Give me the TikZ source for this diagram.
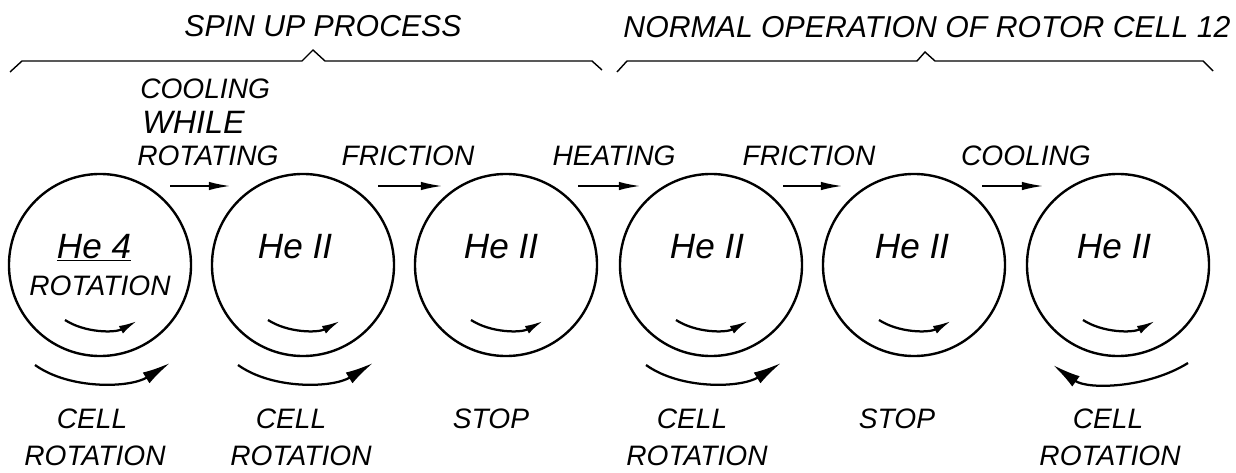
\documentclass[tikz,border=0pt]{standalone}
\usepackage{fontspec}
\setmainfont{Liberation Sans}
\usetikzlibrary{arrows.meta}

\begin{document}
\begin{tikzpicture}[x=0.025cm,y=-0.025cm,
  cell/.style={draw,circle,line width=1.7pt,minimum size=4.55cm,inner sep=0pt},
  tag/.style={anchor=base,inner sep=0pt,font=\itshape\fontsize{20}{24}\selectfont},
  head/.style={anchor=base,inner sep=0pt,font=\itshape\fontsize{21.5}{26}\selectfont},
  gas/.style={anchor=base,inner sep=0pt,font=\itshape\fontsize{25}{30}\selectfont},
  flow/.style={line width=1.1pt,-{Latex[length=15pt,width=6pt]}},
  swirl/.style={line width=1.6pt,-{Latex[length=13pt,width=6pt]}},
  spin/.style={line width=1.6pt,-{Latex[length=20pt,width=9pt]}},
  brace/.style={line width=1pt}]

\useasboundingbox (0,0) rectangle (1236,473);

% Titles and the two braces
\node[head] (spinup) at (323,37) {SPIN UP PROCESS};
\node[head] (normal) at (927,38) {NORMAL OPERATION OF ROTOR CELL 12};
\draw[brace] (10,72) -- (22,61) -- (302,61) -- (313,50) -- (325,61) -- (592,61) -- (602,70);
\draw[brace] (617,72) -- (627,61) -- (917,61) -- (925,52) -- (935,61) -- (1203,61) -- (1213,71);

% The six rotor cells
\node[cell] (cell1) at (100,265) {};
\node[cell] (cell2) at (303,265) {};
\node[cell] (cell3) at (506,265) {};
\node[cell] (cell4) at (711,265) {};
\node[cell] (cell5) at (914,265) {};
\node[cell] (cell6) at (1118,265) {};

% Contents of the cells
\node[gas] (he1) at (94,258) {\underline{He 4}};
\node[tag] (rot1) at (100,295) {ROTATION};
\node[gas] (he2) at (295,258) {He II};
\node[gas] (he3) at (501,258) {He II};
\node[gas] (he4) at (707,258) {He II};
\node[gas] (he5) at (912,258) {He II};
\node[gas] (he6) at (1114,258) {He II};

% Step labels between the cells
\node[tag,anchor=base west] (cool1) at (140,98) {COOLING};
\node[tag,anchor=base west,font=\itshape\fontsize{23}{28}\selectfont] (while1) at (142,133) {WHILE};
\node[tag,anchor=base west] (rotating1) at (137,165) {ROTATING};
\node[tag] (fric1) at (408,165) {FRICTION};
\node[tag] (heat1) at (614,165) {HEATING};
\node[tag] (fric2) at (809,165) {FRICTION};
\node[tag] (cool2) at (1026,165) {COOLING};

% Step arrows
\draw[flow] ([shift={(70,-79)}]cell1.center) -- ([shift={(-73,-79)}]cell2.center);
\draw[flow] ([shift={(75,-79)}]cell2.center) -- ([shift={(-64,-79)}]cell3.center);
\draw[flow] ([shift={(72,-79)}]cell3.center) -- ([shift={(-71,-79)}]cell4.center);
\draw[flow] ([shift={(72,-79)}]cell4.center) -- ([shift={(-72,-79)}]cell5.center);
\draw[flow] ([shift={(68,-79)}]cell5.center) -- ([shift={(-75,-79)}]cell6.center);

% Helium rotation inside each cell
\draw[swirl] (65,320) .. controls (85,333) and (115,333) .. (137,321);
\draw[swirl] (268,320) .. controls (288,333) and (318,333) .. (340,321);
\draw[swirl] (471,320) .. controls (491,333) and (521,333) .. (543,321);
\draw[swirl] (676,320) .. controls (696,333) and (726,333) .. (748,321);
\draw[swirl] (879,320) .. controls (899,333) and (929,333) .. (951,321);
\draw[swirl] (1083,320) .. controls (1103,333) and (1133,333) .. (1155,321);

% Cell rotation below the cells (last one reversed)
\draw[spin] (35,365) .. controls (70,390) and (130,388) .. (170,363);
\draw[spin] (238,365) .. controls (273,390) and (333,388) .. (373,363);
\draw[spin] (646,365) .. controls (681,390) and (741,388) .. (781,363);
\draw[spin] (1188,363) .. controls (1148,388) and (1088,390) .. (1053,365);

% Labels under the cells
\node[tag] (cellrot1a) at (92,428) {CELL};
\node[tag] (cellrot1b) at (95,465) {ROTATION};
\node[tag] (cellrot2a) at (291,428) {CELL};
\node[tag] (cellrot2b) at (301,465) {ROTATION};
\node[tag] (stop3) at (491,428) {STOP};
\node[tag] (cellrot4a) at (692,428) {CELL};
\node[tag] (cellrot4b) at (697,465) {ROTATION};
\node[tag] (stop5) at (897,428) {STOP};
\node[tag] (cellrot6a) at (1108,428) {CELL};
\node[tag] (cellrot6b) at (1110,465) {ROTATION};

\end{tikzpicture}
\end{document}
